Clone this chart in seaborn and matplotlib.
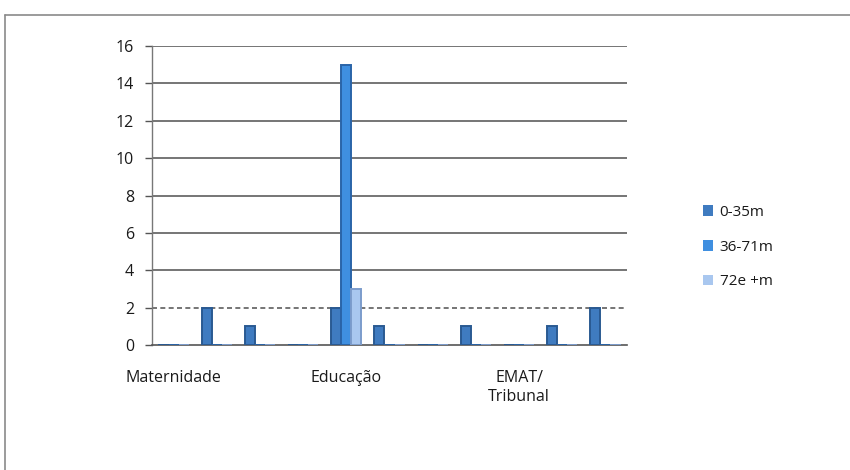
import matplotlib
matplotlib.use("Agg")
import matplotlib.pyplot as plt
from matplotlib.patches import Patch
from matplotlib.lines import Line2D
import pandas as pd
import seaborn as sns

# Categories along the x axis (only every fourth one carries a visible label)
categorias = list(range(11))
rotulos = ["Maternidade", "", "", "", "Educação", "", "", "", "EMAT/\nTribunal", "", ""]

# Series by age band
series = ["0-35m", "36-71m", "72e +m"]
v_0_35 = [0, 2, 1, 0, 2, 1, 0, 1, 0, 1, 2]
v_36_71 = [0, 0, 0, 0, 15, 0, 0, 0, 0, 0, 0]
v_72 = [0, 0, 0, 0, 3, 0, 0, 0, 0, 0, 0]

cores = ["#3f7bc0", "#3f8fe0", "#a9c7ef"]
bordas = ["#2a5a92", "#2a64a8", "#7c9ccc"]

df = pd.DataFrame({
    "categoria": categorias * 3,
    "serie": [series[0]] * 11 + [series[1]] * 11 + [series[2]] * 11,
    "valor": v_0_35 + v_36_71 + v_72,
})

sns.set_theme(style="white")
plt.rcParams["font.family"] = ["Open Sans", "DejaVu Sans"]

fig = plt.figure(figsize=(8.5, 4.7), dpi=100)
ax = fig.add_axes([152 / 850, 1 - 345 / 470, (627 - 152) / 850, (345 - 46) / 470])

sns.barplot(data=df, x="categoria", y="valor", hue="serie", hue_order=series,
            order=categorias, palette=cores, width=0.7, ax=ax, legend=False,
            saturation=1, errorbar=None)

# Bar outlines (zero-valued bars show as a dark line on the baseline)
for cont, ec in zip(ax.containers, bordas):
    for bar in cont:
        bar.set_edgecolor(ec)
        bar.set_linewidth(1.4)
        bar.set_zorder(5)

ax.set_ylim(0, 16)
ax.set_xlim(-0.5, 10.5)
ax.set_yticks(range(0, 17, 2))
ax.set_yticklabels([str(v) for v in range(0, 17, 2)], fontsize=11.5, color="#1a1a1a")

# Gridlines
for yv in range(2, 17, 2):
    ax.axhline(yv, color="#5e5e5e", lw=1.2,
               ls=(0, (3, 2)) if yv == 2 else "-", zorder=1)

ax.set_xticks(categorias)
ax.set_xticklabels(rotulos, fontsize=11.5, color="#1a1a1a", linespacing=1.25)
ax.set_xticks([c - 0.5 for c in categorias] + [categorias[-1] + 0.5], minor=True)
ax.tick_params(axis="x", which="major", length=0, pad=18)
ax.tick_params(axis="x", which="minor", length=5, width=1, color="#555555", direction="out")
ax.tick_params(axis="y", length=5, width=1, color="#555555", direction="out", pad=8, left=True)
ax.set_xlabel("")
ax.set_ylabel("")

for s in ["top", "right"]:
    ax.spines[s].set_visible(False)
ax.spines["left"].set_color("#777777")
ax.spines["bottom"].set_color("#555555")
ax.spines["left"].set_linewidth(1.0)
ax.spines["bottom"].set_linewidth(1.2)
ax.spines["bottom"].set_zorder(4)

# Legend
handles = [Patch(facecolor=c, edgecolor="none") for c in cores]
fig.legend(handles, series, loc="upper left", bbox_to_anchor=(689 / 850, 1 - 191 / 470),
           frameon=False, fontsize=11, handlelength=0.7, handleheight=0.7,
           handletextpad=0.4, labelspacing=1.3, labelcolor="#1a1a1a")

# Outer chart frame
fig.add_artist(Line2D([5 / 850, 1.0], [1 - 15 / 470, 1 - 15 / 470],
                      transform=fig.transFigure, color="#8a8a8a", lw=1.2))
fig.add_artist(Line2D([5 / 850, 5 / 850], [0.0, 1 - 15 / 470],
                      transform=fig.transFigure, color="#8a8a8a", lw=1.2))

fig.savefig("out.png", dpi=100, facecolor="white")
